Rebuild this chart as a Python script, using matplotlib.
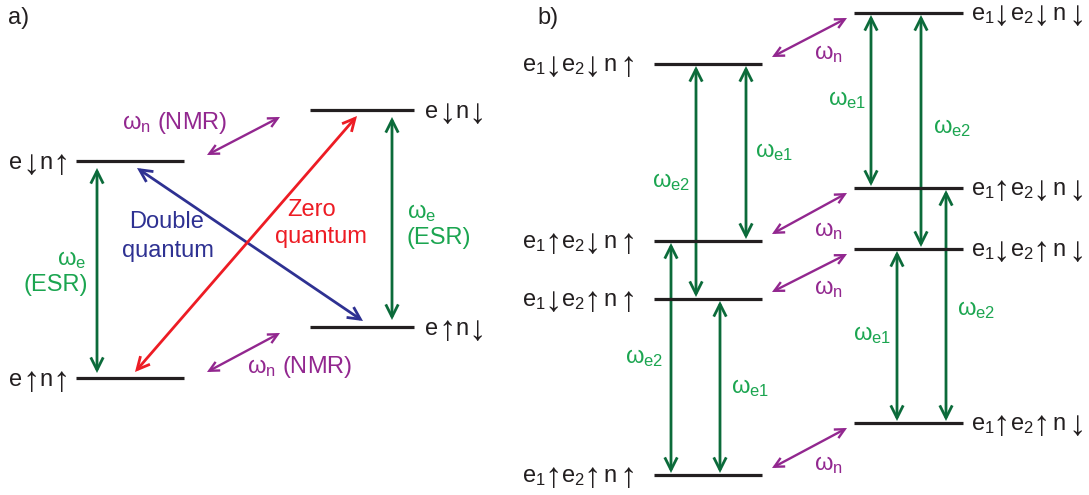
import matplotlib.pyplot as plt
from matplotlib.patches import FancyArrowPatch

plt.rcParams['font.family'] = ['Liberation Sans', 'DejaVu Sans']
plt.rcParams['mathtext.fontset'] = 'custom'
plt.rcParams['mathtext.rm'] = 'Liberation Sans'
plt.rcParams['mathtext.it'] = 'Liberation Sans'
plt.rcParams['mathtext.default'] = 'rm'

UP, DOWN = '↑', '↓'

# ---- panel a: one electron, one nucleus ----
# level energies given as vertical position (down = lower energy)
a_spins = [(DOWN, UP), (UP, UP), (DOWN, DOWN), (UP, DOWN)]   # (e, n)
a_energy = [161, 378, 110, 327]
a_column = [0, 0, 1, 1]
a_col_x = [(76, 184), (310, 414)]

# ---- panel b: two electrons, one nucleus ----
b_spins = [(DOWN, DOWN, UP), (UP, DOWN, UP), (DOWN, UP, UP), (UP, UP, UP),
           (DOWN, DOWN, DOWN), (UP, DOWN, DOWN), (DOWN, UP, DOWN), (UP, UP, DOWN)]  # (e1, e2, n)
b_energy = [64, 241, 299, 475, 13, 188, 249, 423]
b_column = [0, 0, 0, 0, 1, 1, 1, 1]
b_col_x = [(654, 762), (854, 963)]

# electron transitions in b: (level i, level j, arrow x, label, label x, label y)
b_esr = [(0, 2, 696, 'e2', 671, 182),
         (0, 1, 746, 'e1', 774, 152),
         (1, 3, 671, 'e2', 644, 358),
         (2, 3, 720, 'e1', 750, 388),
         (4, 5, 871, 'e1', 847, 100),
         (4, 6, 921, 'e2', 952, 128),
         (6, 7, 897, 'e1', 872, 335),
         (5, 7, 946, 'e2', 976, 310)]
# nuclear transitions in b: left level -> right level
b_nmr = [(0, 4), (1, 5), (2, 6), (3, 7)]

black = '#231F20'
dgreen = '#0B6B3A'
lgreen = '#1BA550'
purple = '#92278F'
blue = '#2E3192'
red = '#ED1C24'
fs = 17
afs = 25  # size for the spin arrows in level names


def arrow(ax, p0, p1, color, lw=2.0, hl=9, hw=4.5):
    ax.add_patch(FancyArrowPatch(p0, p1, arrowstyle=f'<->,head_length={hl},head_width={hw}',
                                 color=color, lw=lw, shrinkA=0, shrinkB=0,
                                 joinstyle='miter', capstyle='butt'))


fig = plt.figure(figsize=(10.89, 4.95), dpi=100)
ax = fig.add_axes([0, 0, 1, 1])
ax.set_xlim(0, 1089)
ax.set_ylim(495, 0)
ax.axis('off')
renderer = fig.canvas.get_renderer()


def level_name(x, y, pieces, ha):
    # pieces: (text, is_arrow, gap after); placed left to right on a common baseline
    texts = []
    cur = 0
    for s, is_arrow, gap in pieces:
        size = afs if is_arrow else fs
        dy = 5 if is_arrow else 0
        t = ax.text(x + cur, y + dy, s, fontsize=size, va='baseline', ha='left', color=black)
        w = t.get_window_extent(renderer=renderer).width
        texts.append(t)
        cur += w + gap
    cur -= pieces[-1][2]
    if ha == 'right':
        for t in texts:
            px, py = t.get_position()
            t.set_position((px - cur, py))


# panel a levels
for spins, e, c in zip(a_spins, a_energy, a_column):
    x0, x1 = a_col_x[c]
    ax.plot([x0, x1], [e, e], color=black, lw=2.3, solid_capstyle='butt')
    pieces = [('e', False, 0), (spins[0], True, 0), ('n', False, 0), (spins[1], True, 0)]
    if c == 0:
        level_name(x0 - 6, e + 8, pieces, 'right')
    else:
        level_name(x1 + 11, e + 8, pieces, 'left')

ax.text(8, 18, 'a)', fontsize=fs, ha='left', va='center', color=black)

# ESR
arrow(ax, (97, a_energy[0] + 7), (97, a_energy[1] - 5), dgreen)
arrow(ax, (392, a_energy[2] + 7), (392, a_energy[3] - 7), dgreen)
ax.text(86, 260, r'$\omega_{\rm e}$', color=lgreen, fontsize=fs, ha='right', va='center')
ax.text(88, 285, '(ESR)', color=lgreen, fontsize=fs, ha='right', va='center')
ax.text(407, 213, r'$\omega_{\rm e}$', color=lgreen, fontsize=fs, ha='left', va='center')
ax.text(407, 238, '(ESR)', color=lgreen, fontsize=fs, ha='left', va='center')

# double / zero quantum
arrow(ax, (137, a_energy[0] + 7), (363, a_energy[3] - 6), blue)
arrow(ax, (135, a_energy[1] - 6), (357, a_energy[2] + 6), red)
ax.text(167, 222, 'Double', color=blue, fontsize=fs, ha='center', va='center')
ax.text(168, 251, 'quantum', color=blue, fontsize=fs, ha='center', va='center')
ax.text(312, 210, 'Zero', color=red, fontsize=fs, ha='center', va='center')
ax.text(321, 237, 'quantum', color=red, fontsize=fs, ha='center', va='center')

# NMR
arrow(ax, (207, a_energy[0] - 6), (280, a_energy[2] + 7), purple, lw=1.7, hl=7, hw=3.5)
arrow(ax, (207, a_energy[1] - 6), (280, a_energy[3] + 6), purple, lw=1.7, hl=7, hw=3.5)
ax.text(175, 123, r'$\omega_{\rm n}$ (NMR)', color=purple, fontsize=fs, ha='center', va='center')
ax.text(300, 367, r'$\omega_{\rm n}$ (NMR)', color=purple, fontsize=fs, ha='center', va='center')

# panel b levels
for spins, e, c in zip(b_spins, b_energy, b_column):
    x0, x1 = b_col_x[c]
    ax.plot([x0, x1], [e, e], color=black, lw=2.3, solid_capstyle='butt')
    pieces = [(r'e$_1$', False, -2), (spins[0], True, 0), (r'e$_2$', False, -2),
              (spins[1], True, 3), ('n', False, 3), (spins[2], True, 0)]
    if c == 0:
        level_name(x0 - 17, e + 7, pieces, 'right')
    else:
        level_name(x1 + 8, e + 7, pieces, 'left')

ax.text(537, 18, 'b)', fontsize=fs, ha='left', va='center', color=black)

for i, j, x, sub, lx, ly in b_esr:
    top, bot = sorted([b_energy[i], b_energy[j]])
    arrow(ax, (x, top + 2), (x, bot - 2), dgreen)
    ax.text(lx, ly, r'$\omega_{\rm %s}$' % sub, color=lgreen, fontsize=fs, ha='center', va='center')

for i, j in b_nmr:
    arrow(ax, (772, b_energy[i] - 7), (847, b_energy[j] + 5), purple, lw=1.7, hl=7, hw=3.5)
    ax.text(828, b_energy[i] - 10, r'$\omega_{\rm n}$', color=purple, fontsize=fs, ha='center', va='center')

fig.savefig('out.png', dpi=100)
